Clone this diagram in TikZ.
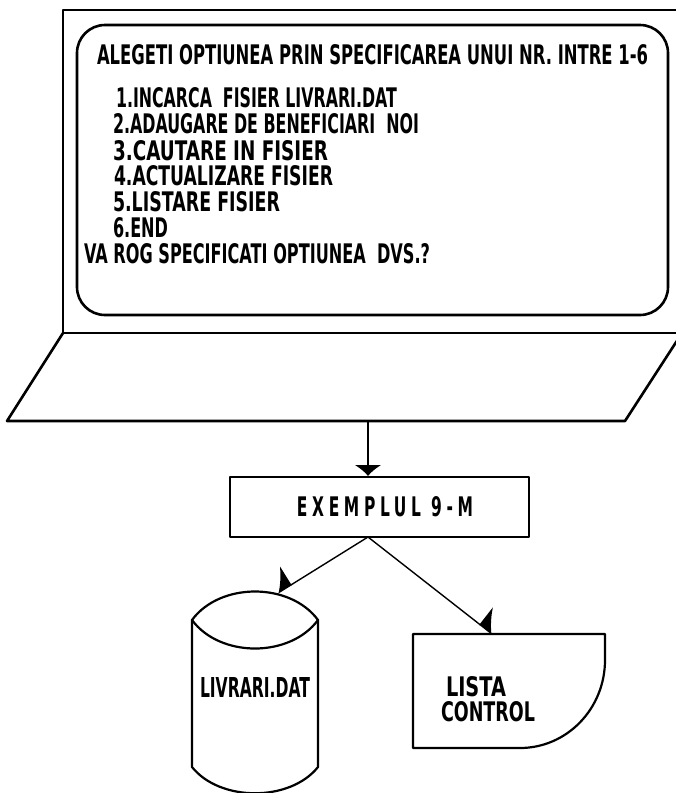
\documentclass[tikz,border=0pt]{standalone}
\usepackage{fontspec}
\setmainfont{DejaVu Sans}
\newfontfamily\wideletters[LetterSpace=30]{DejaVu Sans}
\usetikzlibrary{arrows.meta}
% a line of lettering stretched to a given width and a fixed height
\newcommand{\fitline}[2]{\resizebox{#1pt}{20pt}{\bfseries #2}}
\begin{document}
\begin{tikzpicture}[x=1pt,y=-1pt,line join=round,
  casing/.style={draw=black,line width=2.6pt},
  symbol/.style={draw=black,line width=2.2pt},
  lettering/.style={anchor=base west,inner sep=0pt,outer sep=0pt},
  flow/.style={draw=black,line width=1.4pt},
  headdown/.style={-{Latex[length=11pt,width=27pt]}},
  headright/.style={-{Latex[harpoon,length=15pt,width=44pt]}},
  headleft/.style={-{Latex[harpoon,swap,length=15pt,width=44pt]}}]
\useasboundingbox (0,0) rectangle (676,793);
\begin{scope}
\clip (0,0) rectangle (676,793);

% terminal casing and keyboard
\draw[casing] (700,10) -- (63,10) -- (63,333) -- (700,333);
\draw[casing] (63,333) -- (7,421) -- (625,421) -- (682,333);
\coordinate (kb) at (368,421);

% screen
\draw[casing,rounded corners=28pt] (77,25) rectangle (668,315);

% menu shown on the screen
\node[lettering] (title) at (97,64)  {\fitline{551}{ALEGETI OPTIUNEA PRIN SPECIFICAREA UNUI NR. INTRE 1-6}};
\node[lettering] (opt1)  at (116,107) {\fitline{281}{1.INCARCA\ \ FISIER LIVRARI.DAT}};
\node[lettering] (opt2)  at (113,133) {\fitline{306}{2.ADAUGARE DE BENEFICIARI\ \ NOI}};
\node[lettering] (opt3)  at (113,160) {\fitline{215}{3.CAUTARE IN FISIER}};
\node[lettering] (opt4)  at (114,185) {\fitline{219}{4.ACTUALIZARE FISIER}};
\node[lettering] (opt5)  at (113,211) {\fitline{167}{5.LISTARE FISIER}};
\node[lettering] (opt6)  at (113,237) {\fitline{55}{6.END}};
\node[lettering] (ask)   at (84,263)  {\fitline{346}{VA ROG SPECIFICATI OPTIUNEA\ \ DVS.?}};

% program box
\node[symbol,line width=2pt,minimum width=299pt,minimum height=60pt,inner sep=0pt]
  (prog) at (379.5,507) {\hspace*{11pt}\resizebox{176pt}{20pt}{\wideletters\bfseries EXEMPLUL 9-M}};
\coordinate (fork) at (368,537);

% disk file
\draw[symbol] (192,620) .. controls (220,582) and (290,582) .. (318,620)
  -- (318,767) .. controls (290,802) and (220,802) .. (192,767) -- cycle;
\draw[symbol] (192,620) .. controls (220,658) and (290,658) .. (318,620);
\coordinate (filetop) at (278,593);
\node[lettering] (filename) at (200,697) {\fitline{110}{LIVRARI.DAT}};

% printed report
\draw[symbol] (413,634) -- (605,634) -- (605,660)
  .. controls (605,708.6) and (567,748) .. (520,748) -- (413,748) -- cycle;
\coordinate (reporttop) at (492,634);
\node[lettering] (rep1) at (446,696) {\fitline{60}{LISTA}};
\node[lettering] (rep2) at (441,721) {\fitline{94}{CONTROL}};

% data flow
\draw[flow,headdown] (kb) -- (kb |- prog.north);
\draw[flow,headleft] (fork) -- (filetop);
\draw[flow,headright] (fork) -- (reporttop);
\end{scope}
\end{tikzpicture}
\end{document}
